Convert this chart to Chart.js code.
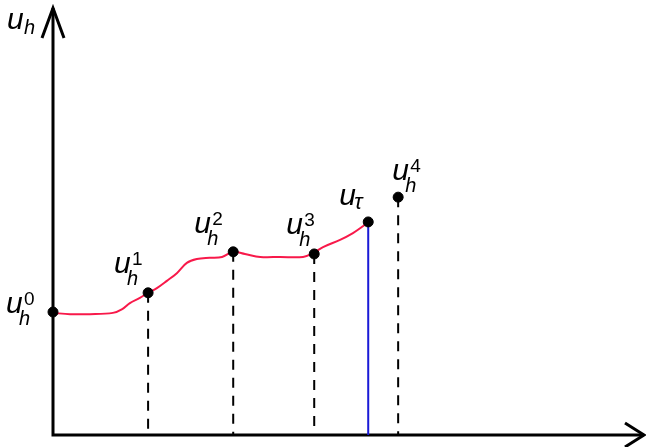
<!DOCTYPE html>
<html>
<head>
<meta charset="utf-8">
<script src="https://cdn.jsdelivr.net/npm/chart.js@4.4.1/dist/chart.umd.min.js"></script>
<style>
  html, body { margin:0; padding:0; background:#fff; }
  #c { display:block; }
</style>
</head>
<body>
<canvas id="c" width="646" height="447"></canvas>
<script>
// ── data (x = time, y = u) ─────────────────────────────
const curveX = [0, 0.29, 0.63, 1.02, 1.18, 1.31, 1.48, 1.62, 1.77, 1.94, 2.11, 2.28, 2.45, 2.67, 2.88, 3.07, 3.27, 3.53, 3.87, 4.26, 4.43, 4.60, 4.89, 5.11, 5.26, 5.37];
const curveY = [2.86, 2.83, 2.83, 2.86, 2.95, 3.09, 3.21, 3.33, 3.44, 3.61, 3.79, 4.03, 4.12, 4.15, 4.17, 4.29, 4.24, 4.17, 4.17, 4.17, 4.26, 4.40, 4.57, 4.73, 4.87, 4.99];

const stepX   = [0, 1.62, 3.07, 4.45, 5.88];
const stepY   = [2.88, 3.33, 4.29, 4.24, 5.57];
const stepSup = ['0', '1', '2', '3', '4'];

const tauX = 5.37;
const tauY = 4.99;

const RED   = '#f8194a';
const BLUE  = '#1a1ad6';
const BLACK = '#000';
const FONT  = '"Liberation Sans", Arial, sans-serif';

// label offsets from the dot, in px
const LABEL_OFF = [[-46, 1], [-33, -20], [-38, -19], [-27, -20], [-5, -17]];
const TAU_OFF = [-28, -17];

function drawU(ctx, x, y, sub, sup, axis) {
  ctx.save();
  ctx.fillStyle = BLACK;
  ctx.textBaseline = 'alphabetic';
  ctx.textAlign = 'left';
  ctx.font = 'italic 30px ' + FONT;
  ctx.fillText('u', x - 1, y);
  if (sub === 'τ') {
    ctx.font = 'italic 22px ' + FONT;
    ctx.fillText(sub, x + 14, y + 4);
  } else if (axis) {
    ctx.font = 'italic 20px ' + FONT;
    ctx.fillText(sub, x + 16, y + 5);
  } else {
    ctx.font = 'italic 20px ' + FONT;
    ctx.fillText(sub, x + 12, y + 12);
  }
  if (sup) {
    ctx.font = '19px ' + FONT;
    ctx.fillText(sup, x + 17, y - 8);
  }
  ctx.restore();
}

const axesPlugin = {
  id: 'axesArrows',
  beforeDatasetsDraw(chart) {
    const { ctx, chartArea: a } = chart;
    ctx.save();
    ctx.strokeStyle = BLACK;
    ctx.lineWidth = 3;
    ctx.lineCap = 'butt';
    ctx.beginPath();
    ctx.moveTo(a.left, a.bottom);
    ctx.lineTo(a.left, a.top);
    ctx.moveTo(a.left - 1.5, a.bottom);
    ctx.lineTo(chart.width - 2, a.bottom);
    ctx.stroke();
    // arrow heads
    ctx.lineJoin = 'miter';
    ctx.beginPath();
    ctx.moveTo(a.left - 11, a.top + 30);
    ctx.lineTo(a.left, a.top);
    ctx.lineTo(a.left + 11, a.top + 30);
    ctx.moveTo(chart.width - 21, a.bottom - 12);
    ctx.lineTo(chart.width - 2, a.bottom);
    ctx.lineTo(chart.width - 21, a.bottom + 12);
    ctx.stroke();
    ctx.restore();
  },
  afterDatasetsDraw(chart) {
    const { ctx, scales: { x, y } } = chart;
    drawU(ctx, 8, 29, 'h', null, true);
    stepX.forEach((v, i) => {
      const px = x.getPixelForValue(v), py = y.getPixelForValue(stepY[i]);
      drawU(ctx, px + LABEL_OFF[i][0], py + LABEL_OFF[i][1], 'h', stepSup[i]);
    });
    drawU(ctx, x.getPixelForValue(tauX) + TAU_OFF[0], y.getPixelForValue(tauY) + TAU_OFF[1], 'τ', null);
  }
};

const dashSets = stepX.slice(1).map((v, i) => ({
  type: 'line',
  data: [{ x: v, y: stepY[i + 1] }, { x: v, y: 0 }],
  borderColor: BLACK, borderWidth: 2, borderDash: [10, 8],
  pointRadius: 0, clip: false, order: 5
}));

new Chart(document.getElementById('c'), {
  type: 'scatter',
  data: {
    datasets: [
      ...dashSets,
      { type: 'line', data: [{ x: tauX, y: tauY }, { x: tauX, y: 0 }],
        borderColor: BLUE, borderWidth: 2, pointRadius: 0, clip: false, order: 4 },
      { type: 'line', data: curveX.map((v, i) => ({ x: v, y: curveY[i] })),
        borderColor: RED, borderWidth: 2, pointRadius: 0, tension: 0.35, clip: false, order: 3 },
      { data: stepX.map((v, i) => ({ x: v, y: stepY[i] })).concat([{ x: tauX, y: tauY }]),
        backgroundColor: BLACK, borderColor: BLACK, pointRadius: 5, clip: false, order: 1 }
    ]
  },
  options: {
    responsive: false,
    animation: false,
    layout: { autoPadding: false, padding: { left: 53, top: 8, right: 6, bottom: 12 } },
    plugins: { legend: { display: false }, tooltip: { enabled: false } },
    scales: {
      x: { type: 'linear', min: 0, max: 10, display: false },
      y: { type: 'linear', min: 0, max: 10, display: false }
    }
  },
  plugins: [axesPlugin]
});
</script>
</body>
</html>
